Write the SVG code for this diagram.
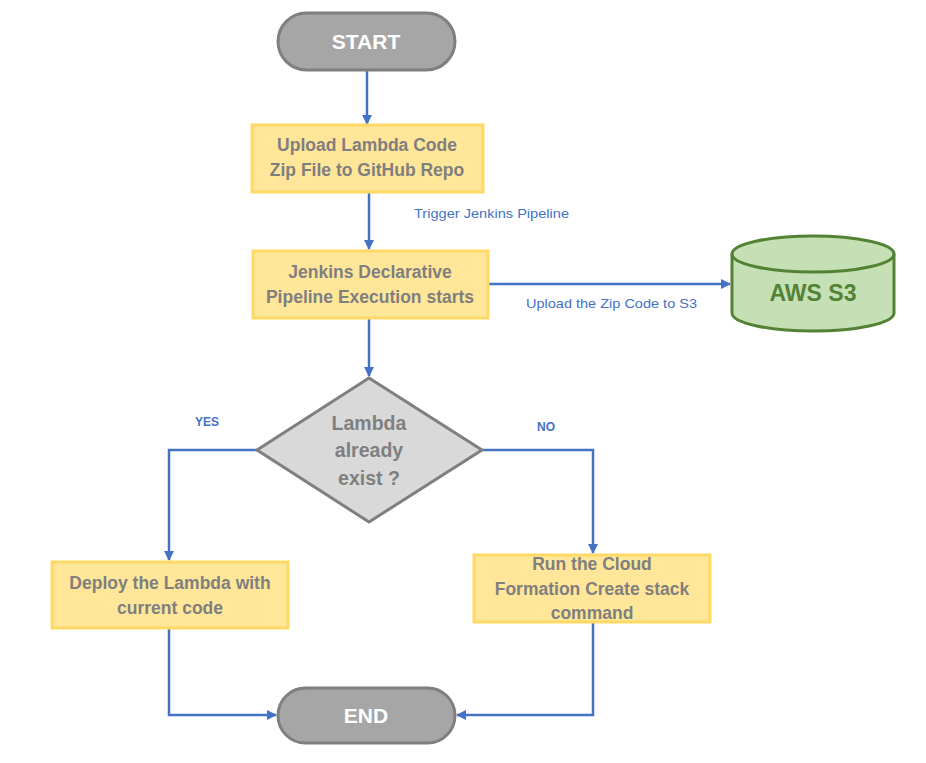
<svg xmlns="http://www.w3.org/2000/svg" width="926" height="763" viewBox="0 0 926 763">
<defs>
<marker id="ah" viewBox="0 0 10 10" refX="9" refY="5" markerWidth="4" markerHeight="4" orient="auto" markerUnits="strokeWidth">
<path d="M0,0 L10,5 L0,10 z" fill="#4472c4"/>
</marker>
<style>
.term{fill:#a6a6a6;stroke:#7f7f7f;stroke-width:3}
.proc{fill:#ffe699;stroke:#ffd966;stroke-width:3}
.dec{fill:#d9d9d9;stroke:#7f7f7f;stroke-width:3}
.cyl{fill:#c5e0b4;stroke:#548235;stroke-width:3}
.tt{font-family:"Liberation Sans",Arial,sans-serif;font-weight:bold;font-size:21px;fill:#ffffff;text-anchor:middle}
.pt{font-family:"Liberation Sans",Arial,sans-serif;font-weight:bold;font-size:17.5px;fill:#7f7f7f;text-anchor:middle}
.dt{font-family:"Liberation Sans",Arial,sans-serif;font-weight:bold;font-size:19.5px;fill:#7f7f7f;text-anchor:middle}
.st{font-family:"Liberation Sans",Arial,sans-serif;font-weight:bold;font-size:23px;fill:#548235;text-anchor:middle}
.lab{font-family:"Liberation Sans",Arial,sans-serif;font-size:13.5px;fill:#4472c4}
.yn{font-family:"Liberation Sans",Arial,sans-serif;font-weight:bold;font-size:12px;fill:#4472c4;text-anchor:middle}
.c{fill:none;stroke:#4472c4;stroke-width:2.5;marker-end:url(#ah)}
</style>
</defs>
<rect width="926" height="763" fill="#ffffff"/>
<g id="connectors">
<path class="c" d="M367,70 L367,124"/>
<path class="c" d="M369,192 L369,249"/>
<path class="c" d="M488,284 L730,284"/>
<path class="c" d="M369,318 L369,376"/>
<path class="c" d="M257,450 L169,450 L169,560"/>
<path class="c" d="M482,450 L593,450 L593,553"/>
<path class="c" d="M169,628 L169,715 L276,715"/>
<path class="c" d="M593,622 L593,715 L457,715"/>
<text class="lab" x="414" y="218" textLength="155" lengthAdjust="spacingAndGlyphs">Trigger Jenkins Pipeline</text>
<text class="lab" x="526" y="308" textLength="171" lengthAdjust="spacingAndGlyphs">Upload the Zip Code to S3</text>
<text class="yn" x="207" y="426">YES</text>
<text class="yn" x="546" y="431">NO</text>
</g>
<g id="start">
<rect class="term" x="278" y="13" width="177" height="57" rx="28.5"/>
<text class="tt" x="366" y="49">START</text>
</g>
<g id="upload">
<rect class="proc" x="252" y="125" width="231" height="67"/>
<text class="pt" x="367" y="151">Upload Lambda Code</text>
<text class="pt" x="367" y="176">Zip File to GitHub Repo</text>
</g>
<g id="jenkins">
<rect class="proc" x="253" y="251" width="235" height="67"/>
<text class="pt" x="370" y="278">Jenkins Declarative</text>
<text class="pt" x="370" y="303">Pipeline Execution starts</text>
</g>
<g id="s3">
<path class="cyl" d="M732,254 L732,313 A81,18 0 0 0 894,313 L894,254 A81,18 0 0 0 732,254 Z"/>
<path fill="none" stroke="#548235" stroke-width="3" d="M732,254 A81,18 0 0 0 894,254"/>
<text class="st" x="813" y="301">AWS S3</text>
</g>
<g id="decision">
<path class="dec" d="M369,378 L482,450 L369,522 L257,450 Z"/>
<text class="dt" x="369" y="430">Lambda</text>
<text class="dt" x="369" y="457">already</text>
<text class="dt" x="369" y="485">exist ?</text>
</g>
<g id="deploy">
<rect class="proc" x="52" y="562" width="236" height="66"/>
<text class="pt" x="170" y="589">Deploy the Lambda with</text>
<text class="pt" x="170" y="614">current code</text>
</g>
<g id="cloudformation">
<rect class="proc" x="474" y="555" width="236" height="67"/>
<text class="pt" x="592" y="570">Run the Cloud</text>
<text class="pt" x="592" y="595">Formation Create stack</text>
<text class="pt" x="592" y="619">command</text>
</g>
<g id="end">
<rect class="term" x="278" y="688" width="177" height="55" rx="27.5"/>
<text class="tt" x="366" y="723">END</text>
</g>
</svg>
